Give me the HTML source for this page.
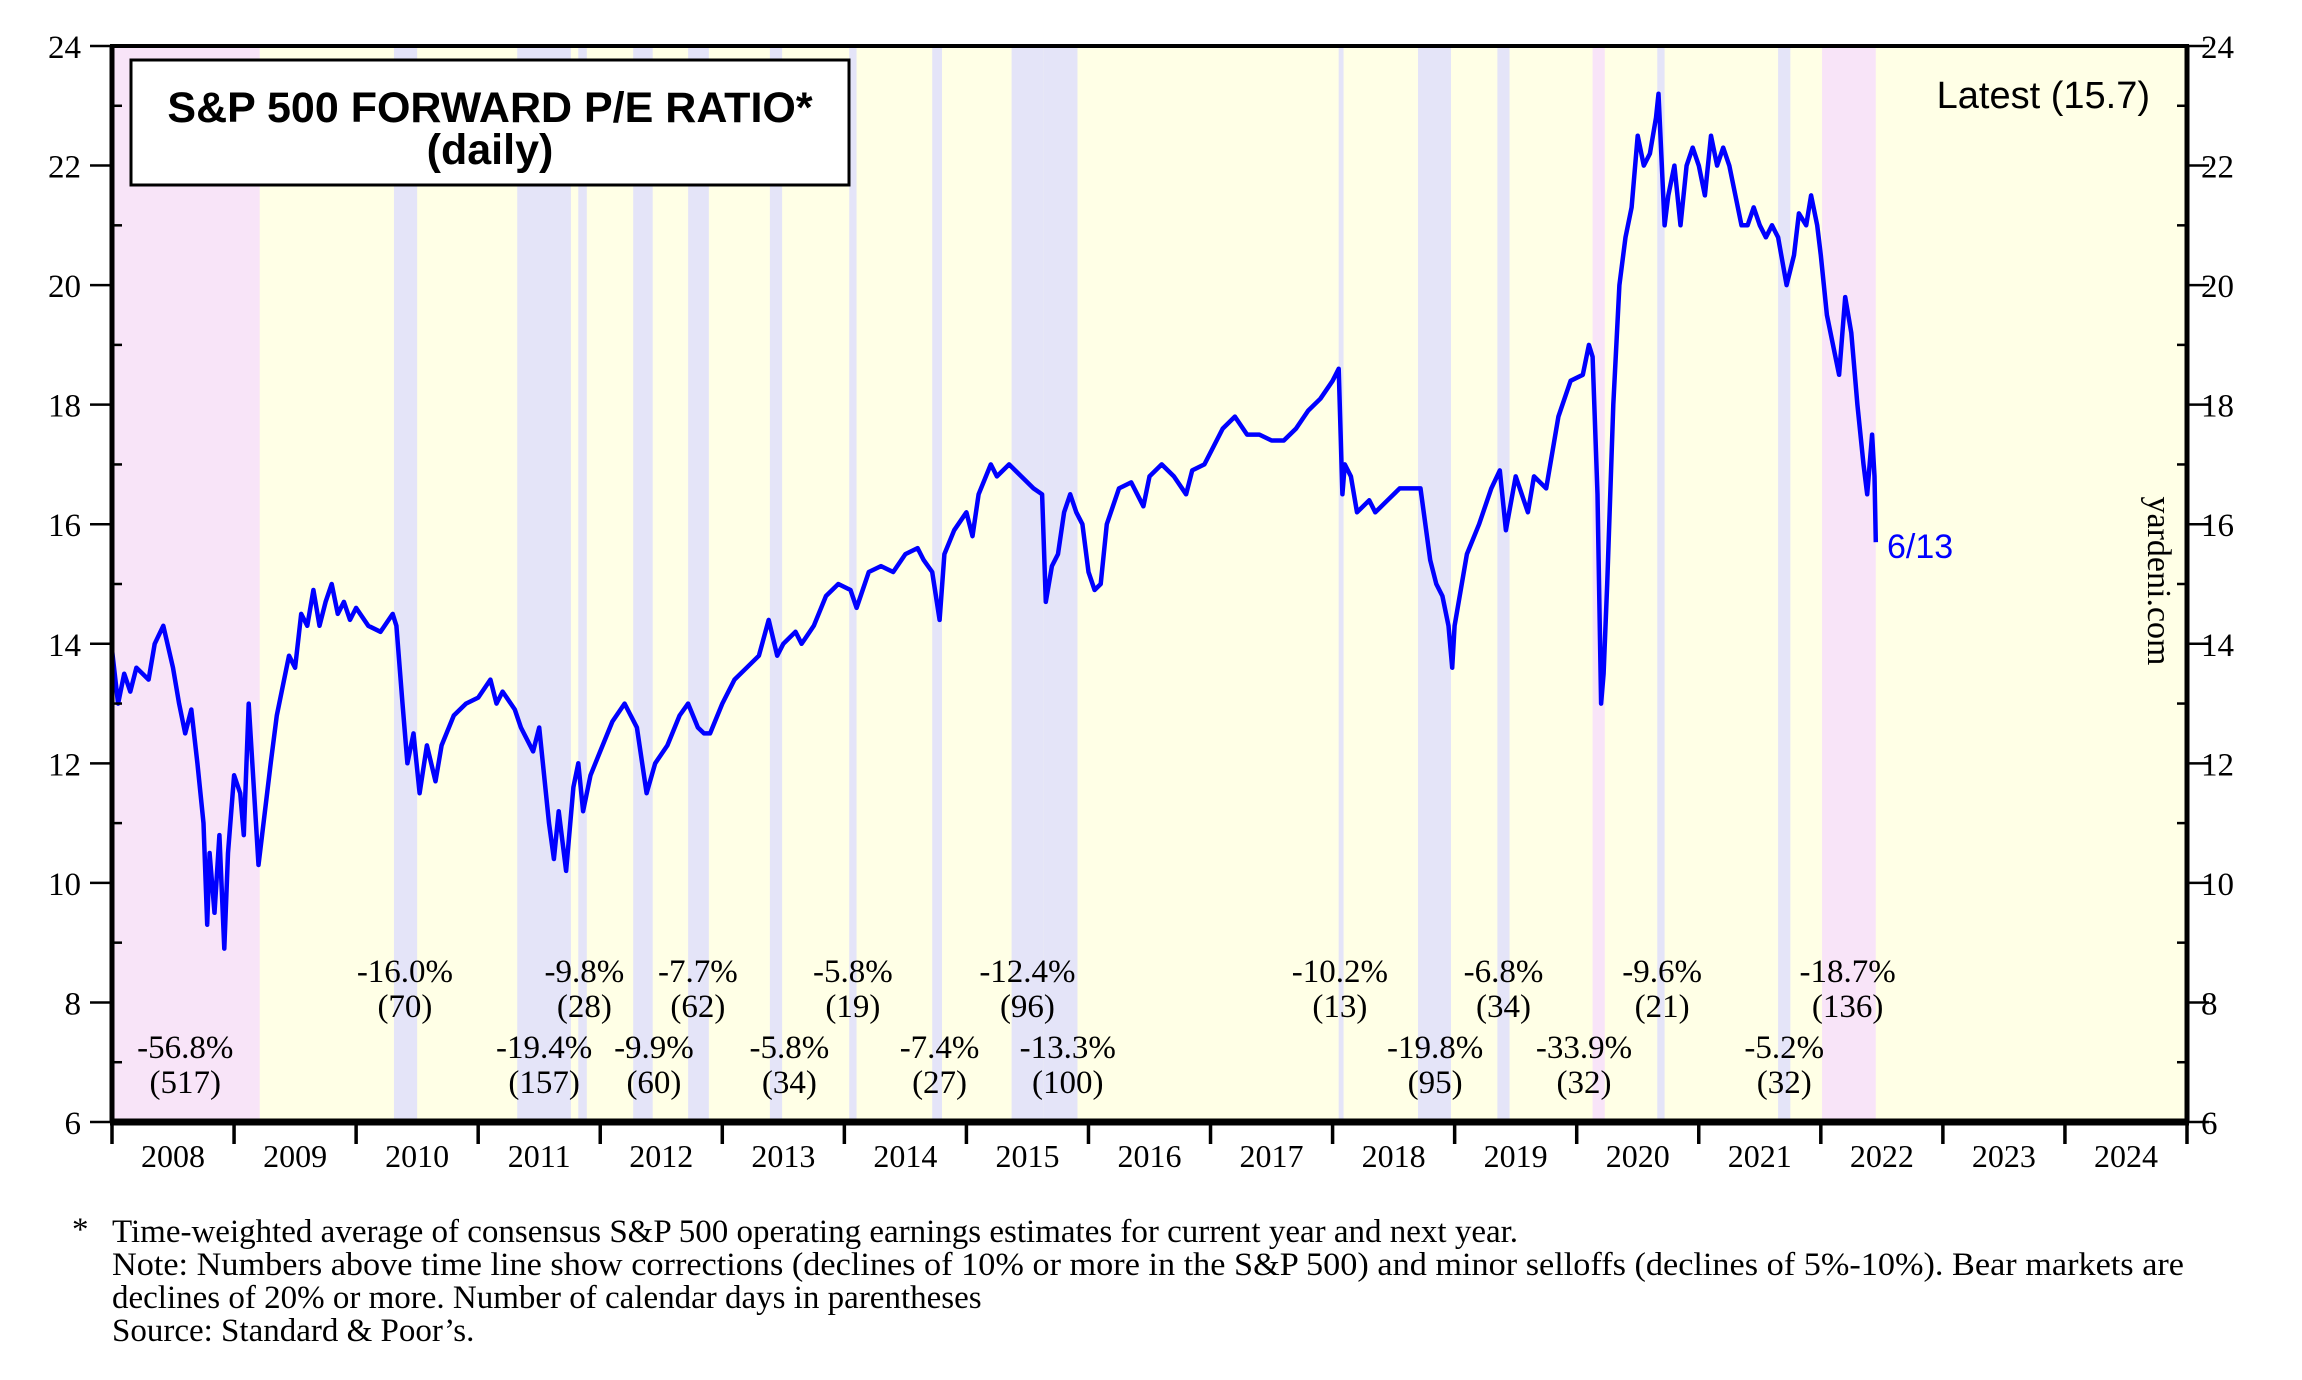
<!DOCTYPE html>
<html><head><meta charset="utf-8"><style>
html,body{margin:0;padding:0;background:#fff;}
svg{display:block;font-family:"Liberation Serif",serif;}
</style></head><body>
<svg id="c" width="2302" height="1380" viewBox="0 0 2302 1380">
<g id="bands"></g><g id="notes"></g>
<path id="line" fill="none" stroke="#0000ff" stroke-width="4.5" stroke-linejoin="round"/>
<rect x="131" y="60" width="718" height="125" fill="#fff" stroke="#000" stroke-width="3"/>
<text x="490" y="122" text-anchor="middle" font-family="Liberation Sans,sans-serif" font-weight="bold" font-size="43">S&amp;P 500 FORWARD P/E RATIO*</text>
<text x="490" y="164" text-anchor="middle" font-family="Liberation Sans,sans-serif" font-weight="bold" font-size="43">(daily)</text>
<text x="2150" y="108" text-anchor="end" font-family="Liberation Sans,sans-serif" font-size="38">Latest (15.7)</text>
<text x="1887" y="558" font-family="Liberation Sans,sans-serif" font-size="34" fill="#0000ff">6/13</text>
<text transform="translate(2148,581) rotate(90)" text-anchor="middle" font-size="34">yardeni.com</text>
<g id="axes"></g>
<g font-size="33">
<text x="72" y="1240">*</text>
<text x="112" y="1242">Time-weighted average of consensus S&amp;P 500 operating earnings estimates for current year and next year.</text>
<text x="112" y="1275" textLength="2072" lengthAdjust="spacingAndGlyphs">Note: Numbers above time line show corrections (declines of 10% or more in the S&amp;P 500) and minor selloffs (declines of 5%-10%). Bear markets are</text>
<text x="112" y="1308">declines of 20% or more. Number of calendar days in parentheses</text>
<text x="112" y="1341">Source: Standard &amp; Poor’s.</text>
</g>
</svg>
<script>
const dates=[2008.0,2008.05,2008.1,2008.15,2008.2,2008.3,2008.35,2008.42,2008.5,2008.55,2008.6,2008.65,2008.7,2008.75,2008.78,2008.8,2008.84,2008.88,2008.92,2008.95,2009.0,2009.05,2009.08,2009.12,2009.2,2009.3,2009.35,2009.4,2009.45,2009.5,2009.55,2009.6,2009.65,2009.7,2009.75,2009.8,2009.85,2009.9,2009.95,2010.0,2010.1,2010.2,2010.3,2010.33,2010.38,2010.42,2010.47,2010.52,2010.58,2010.65,2010.7,2010.8,2010.9,2011.0,2011.1,2011.15,2011.2,2011.3,2011.35,2011.45,2011.5,2011.58,2011.62,2011.66,2011.72,2011.78,2011.82,2011.86,2011.92,2012.0,2012.1,2012.2,2012.3,2012.38,2012.45,2012.55,2012.65,2012.72,2012.8,2012.85,2012.9,2013.0,2013.1,2013.2,2013.3,2013.38,2013.45,2013.5,2013.6,2013.65,2013.75,2013.85,2013.95,2014.05,2014.1,2014.2,2014.3,2014.4,2014.5,2014.6,2014.65,2014.72,2014.78,2014.82,2014.9,2015.0,2015.05,2015.1,2015.2,2015.25,2015.35,2015.45,2015.55,2015.62,2015.65,2015.7,2015.75,2015.8,2015.85,2015.9,2015.95,2016.0,2016.05,2016.1,2016.15,2016.25,2016.35,2016.45,2016.5,2016.6,2016.7,2016.8,2016.85,2016.95,2017.0,2017.1,2017.2,2017.3,2017.4,2017.5,2017.6,2017.7,2017.8,2017.9,2018.0,2018.05,2018.08,2018.1,2018.15,2018.2,2018.3,2018.35,2018.45,2018.55,2018.65,2018.72,2018.8,2018.85,2018.9,2018.95,2018.98,2019.0,2019.1,2019.2,2019.3,2019.37,2019.42,2019.5,2019.6,2019.65,2019.75,2019.85,2019.95,2020.05,2020.1,2020.13,2020.17,2020.2,2020.22,2020.25,2020.3,2020.35,2020.4,2020.45,2020.5,2020.55,2020.6,2020.65,2020.67,2020.72,2020.75,2020.8,2020.85,2020.9,2020.95,2021.0,2021.05,2021.1,2021.15,2021.2,2021.25,2021.3,2021.35,2021.4,2021.45,2021.5,2021.55,2021.6,2021.65,2021.72,2021.78,2021.82,2021.88,2021.92,2021.97,2022.0,2022.05,2022.1,2022.15,2022.2,2022.25,2022.3,2022.35,2022.38,2022.42,2022.44,2022.45];
const peValues=[13.9,13.0,13.5,13.2,13.6,13.4,14.0,14.3,13.6,13.0,12.5,12.9,12.0,11.0,9.3,10.5,9.5,10.8,8.9,10.5,11.8,11.5,10.8,13.0,10.3,12.0,12.8,13.3,13.8,13.6,14.5,14.3,14.9,14.3,14.7,15.0,14.5,14.7,14.4,14.6,14.3,14.2,14.5,14.3,13.0,12.0,12.5,11.5,12.3,11.7,12.3,12.8,13.0,13.1,13.4,13.0,13.2,12.9,12.6,12.2,12.6,11.0,10.4,11.2,10.2,11.6,12.0,11.2,11.8,12.2,12.7,13.0,12.6,11.5,12.0,12.3,12.8,13.0,12.6,12.5,12.5,13.0,13.4,13.6,13.8,14.4,13.8,14.0,14.2,14.0,14.3,14.8,15.0,14.9,14.6,15.2,15.3,15.2,15.5,15.6,15.4,15.2,14.4,15.5,15.9,16.2,15.8,16.5,17.0,16.8,17.0,16.8,16.6,16.5,14.7,15.3,15.5,16.2,16.5,16.2,16.0,15.2,14.9,15.0,16.0,16.6,16.7,16.3,16.8,17.0,16.8,16.5,16.9,17.0,17.2,17.6,17.8,17.5,17.5,17.4,17.4,17.6,17.9,18.1,18.4,18.6,16.5,17.0,16.8,16.2,16.4,16.2,16.4,16.6,16.6,16.6,15.4,15.0,14.8,14.3,13.6,14.3,15.5,16.0,16.6,16.9,15.9,16.8,16.2,16.8,16.6,17.8,18.4,18.5,19.0,18.8,16.5,13.0,13.5,15.0,18.0,20.0,20.8,21.3,22.5,22.0,22.2,22.8,23.2,21.0,21.5,22.0,21.0,22.0,22.3,22.0,21.5,22.5,22.0,22.3,22.0,21.5,21.0,21.0,21.3,21.0,20.8,21.0,20.8,20.0,20.5,21.2,21.0,21.5,21.0,20.5,19.5,19.0,18.5,19.8,19.2,18.0,17.0,16.5,17.5,16.8,15.7];
const yearLabels=[2008,2009,2010,2011,2012,2013,2014,2015,2016,2017,2018,2019,2020,2021,2022,2023,2024];
const yTicks=[6,8,10,12,14,16,18,20,22,24];
const bandStarts=[2008.0,2010.31,2011.32,2011.82,2012.27,2012.72,2013.39,2014.04,2014.72,2015.37,2015.63,2018.05,2018.7,2019.35,2020.13,2020.66,2021.65,2022.01];
const bandEnds=[2009.21,2010.5,2011.76,2011.89,2012.43,2012.89,2013.49,2014.1,2014.8,2015.63,2015.91,2018.09,2018.97,2019.45,2020.23,2020.72,2021.75,2022.45];
const bandKinds=['bear','c','c','c','c','c','c','c','c','c','c','c','c','c','bear','c','c','bear'];
const noteX=[2008.6,2010.4,2011.54,2011.87,2012.44,2012.8,2013.55,2014.07,2014.78,2015.5,2015.83,2018.06,2018.84,2019.4,2020.06,2020.7,2021.7,2022.22];
const notePct=['-56.8%','-16.0%','-19.4%','-9.8%','-9.9%','-7.7%','-5.8%','-5.8%','-7.4%','-12.4%','-13.3%','-10.2%','-19.8%','-6.8%','-33.9%','-9.6%','-5.2%','-18.7%'];
const noteDays=['(517)','(70)','(157)','(28)','(60)','(62)','(34)','(19)','(27)','(96)','(100)','(13)','(95)','(34)','(32)','(21)','(32)','(136)'];
const noteRow=[1,0,1,0,1,0,1,0,1,0,1,0,1,0,1,0,1,0];

const L=112,R=2187,T=46,B=1122,X0=2008,X1=2025,Y0=6,Y1=24;
const xs=d=>L+(d-X0)/(X1-X0)*(R-L);
const ys=v=>B-(v-Y0)/(Y1-Y0)*(B-T);
const NS='http://www.w3.org/2000/svg';
function mk(tag,attrs,parent,txt){const e=document.createElementNS(NS,tag);for(const k in attrs)e.setAttribute(k,attrs[k]);if(txt!==undefined)e.textContent=txt;parent.appendChild(e);return e;}
const bands=document.getElementById('bands'),axes=document.getElementById('axes'),notes=document.getElementById('notes');
const bg=mk('rect',{x:L,y:T,width:R-L,height:B-T,fill:'#ffffe6'},bands);


bandStarts.forEach((s,i)=>{
  const r=mk('rect',{x:xs(s),y:T,width:Math.max(3,xs(bandEnds[i])-xs(s)),height:B-T,fill:bandKinds[i]==='bear'?'#f8e4f8':'#e4e4f8'},bands);
  
  
});
noteX.forEach((d,i)=>{
  const y1=noteRow[i]?1058:982;
  const t1=mk('text',{x:xs(d),y:y1,'text-anchor':'middle','font-size':33},notes,notePct[i]);
  
  
  const t2=mk('text',{x:xs(d),y:y1+35,'text-anchor':'middle','font-size':33},notes,noteDays[i]);
  
  
});
let p='';dates.forEach((d,i)=>{p+=(i?'L':'M')+xs(d).toFixed(1)+','+ys(peValues[i]).toFixed(1);});
document.getElementById('line').setAttribute('d',p);
mk('rect',{x:L,y:T,width:R-L,height:B-T,fill:'none',stroke:'#000','stroke-width':4},axes);
mk('line',{x1:L-2,y1:B,x2:R+2,y2:B,stroke:'#000','stroke-width':7},axes);
mk('line',{x1:L,y1:T,x2:L,y2:B,stroke:'#000','stroke-width':5},axes);
mk('line',{x1:R,y1:T,x2:R,y2:B,stroke:'#000','stroke-width':5},axes);
for(let v=Y0;v<=Y1;v++){
  const major=yTicks.includes(v);
  mk('line',{x1:L-(major?22:0),y1:ys(v),x2:L+(major?0:10),y2:ys(v),stroke:'#000','stroke-width':2.5},axes);
  mk('line',{x1:R-(major?0:10),y1:ys(v),x2:R+(major?22:0),y2:ys(v),stroke:'#000','stroke-width':2.5},axes);
}
yTicks.forEach(v=>{
  const a=mk('text',{x:81,y:ys(v)+12,'text-anchor':'end','font-size':33},axes,v);
  
  
  const b=mk('text',{x:2201,y:ys(v)+12,'font-size':33},axes,v);
  
  
});
yearLabels.forEach(y=>{
  mk('line',{x1:xs(y),y1:B,x2:xs(y),y2:B+22,stroke:'#000','stroke-width':3.5},axes);
  const t=mk('text',{x:xs(y+0.5),y:1167,'text-anchor':'middle','font-size':32},axes,y);
  
  
});
mk('line',{x1:R,y1:B,x2:R,y2:B+22,stroke:'#000','stroke-width':3.5},axes);
</script>
</body></html>
